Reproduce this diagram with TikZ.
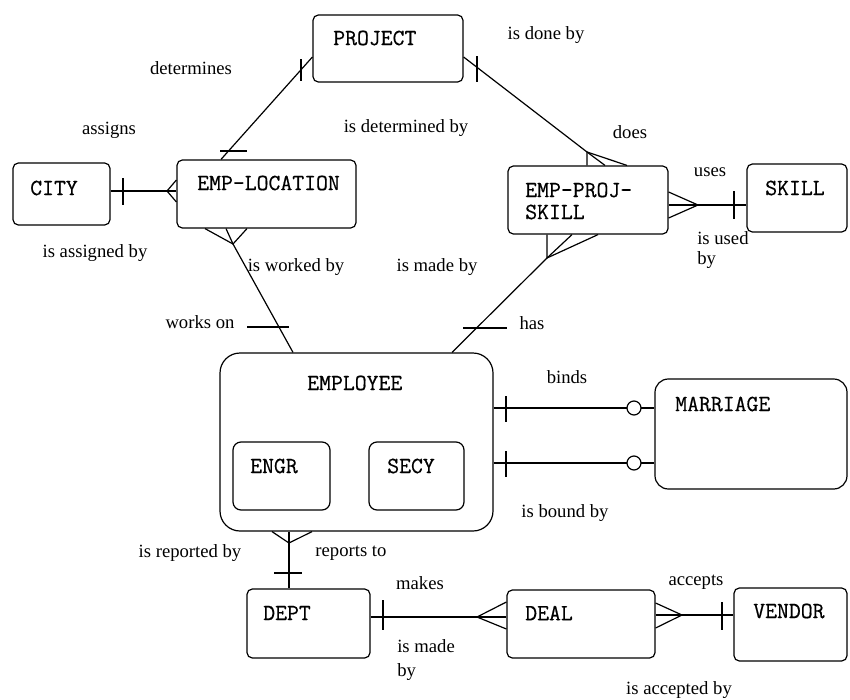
\documentclass[tikz,border=0pt]{standalone}
\usepackage{fontspec}
\setmainfont{Liberation Serif}
\setmonofont[FakeBold=0.5]{Latin Modern Mono}
\usetikzlibrary{fit,calc}
\begin{document}
\begin{tikzpicture}[x=0.75pt,y=-0.75pt,
  conn/.style={line width=0.9pt},
  ebox/.style={draw, line width=0.9pt, rounded corners=4pt, inner sep=0pt},
  etext/.style={font=\ttfamily\fontsize{17.3}{16.5}\selectfont, inner sep=0pt, anchor=west, align=left},
  lbl/.style={font=\fontsize{14}{16}\selectfont, inner sep=0pt}]
\useasboundingbox (0,0) rectangle (850,700);
\fill[white] (0,0) rectangle (850,700);

% ---------- entities ----------
\node[ebox, fit={(313,15)(463,82)}] (project) {};
\node[etext] (projectT) at (333,38) {PROJECT};
\node[ebox, fit={(13,163)(110,225)}] (city) {};
\node[etext] (cityT) at (30,188) {CITY};
\node[ebox, fit={(177,160)(356,228)}] (emploc) {};
\node[etext] (emplocT) at (197,183) {EMP-LOCATION};
\node[ebox, fit={(508,166)(668,234)}] (eps) {};
\node[etext] (epsT) at (525,201) {EMP-PROJ-\\SKILL};
\node[ebox, fit={(747,164)(847,232)}] (skill) {};
\node[etext] (skillT) at (765,188) {SKILL};
\node[ebox, rounded corners=15pt, fit={(220,353)(493,531)}] (employee) {};
\node[etext] (employeeT) at (307,383) {EMPLOYEE};
\node[ebox, rounded corners=6pt, fit={(233,442)(330,510)}] (engr) {};
\node[etext] (engrT) at (250,466) {ENGR};
\node[ebox, rounded corners=6pt, fit={(369,442)(464,510)}] (secy) {};
\node[etext] (secyT) at (387,466) {SECY};
\node[ebox, rounded corners=10pt, fit={(655,379)(847,489)}] (marriage) {};
\node[etext] (marriageT) at (675,404) {MARRIAGE};
\node[ebox, fit={(247,589)(370,658)}] (dept) {};
\node[etext] (deptT) at (263,613) {DEPT};
\node[ebox, fit={(507,590)(655,658)}] (deal) {};
\node[etext] (dealT) at (525,613) {DEAL};
\node[ebox, fit={(734,588)(847,661)}] (vendor) {};
\node[etext] (vendorT) at (753,611) {VENDOR};

% ---------- connectors ----------
% PROJECT - EMP-LOCATION
\draw[conn] (project.west |- 0,57) -- (emploc.north -| 221,0);
\draw[conn] (301,59) -- (301,81);
\draw[conn] (220,151) -- (247,151);

% CITY - EMP-LOCATION
\coordinate (cf) at (167,191);
\draw[conn] (city.east |- cf) -- (emploc.west |- cf);
\draw[conn] (emploc.west |- 0,180) -- (cf) -- (emploc.west |- 0,202);
\draw[conn] (123,178) -- (123,205);

% EMP-LOCATION - EMPLOYEE
\coordinate (ef) at (233,244);
\draw[conn] (emploc.south -| 226,0) -- (ef) -- (employee.north -| 293,0);
\draw[conn] (emploc.south -| 205,0) -- (ef) -- (emploc.south -| 247,0);
\draw[conn] (247,327) -- (289,327);

% PROJECT - EMP-PROJ-SKILL
\coordinate (pf) at (587,152);
\draw[conn] (project.east |- 0,57) -- (pf) -- (eps.north -| 605,0);
\draw[conn] (eps.north -| 587,0) -- (pf) -- (eps.north -| 627,0);
\draw[conn] (477,56) -- (477,82);

% EMP-PROJ-SKILL - SKILL
\coordinate (sf) at (698,205);
\draw[conn] (eps.east |- sf) -- (skill.west |- sf);
\draw[conn] (eps.east |- 0,192) -- (sf) -- (eps.east |- 0,218);
\draw[conn] (734,191) -- (734,219);

% EMP-PROJ-SKILL - EMPLOYEE
\coordinate (hf) at (547,258);
\draw[conn] (employee.north -| 452,0) -- (hf) -- (eps.south -| 572,0);
\draw[conn] (eps.south -| 547,0) -- (hf) -- (eps.south -| 598,0);
\draw[conn] (463,328) -- (507,328);

% EMPLOYEE - MARRIAGE
\draw[conn] (employee.east |- 0,408) -- (marriage.west |- 0,408);
\draw[conn] (506,396) -- (506,422);
\draw[conn, fill=white] (634,408) circle[radius=5.25pt];
\draw[conn] (employee.east |- 0,463) -- (marriage.west |- 0,463);
\draw[conn] (506,451) -- (506,477);
\draw[conn, fill=white] (634,463) circle[radius=5.25pt];

% EMPLOYEE - DEPT
\coordinate (df) at (289,543);
\draw[conn] (employee.south -| 289,0) -- (dept.north -| 289,0);
\draw[conn] (employee.south -| 272,0) -- (df) -- (employee.south -| 312,0);
\draw[conn] (274,573) -- (302,573);

% DEPT - DEAL
\coordinate (lf) at (477,617);
\draw[conn] (dept.east |- lf) -- (deal.west |- lf);
\draw[conn] (deal.west |- 0,602) -- (lf) -- (deal.west |- 0,629);
\draw[conn] (383,600) -- (383,630);

% DEAL - VENDOR
\coordinate (vf) at (682,615);
\draw[conn] (deal.east |- vf) -- (vendor.west |- vf);
\draw[conn] (deal.east |- 0,603) -- (vf) -- (deal.east |- 0,628);
\draw[conn] (722,602) -- (722,630);

% ---------- relationship labels ----------
\node[lbl] (l1) at (191,68) {determines};
\node[lbl] (l2) at (546,35) {is done by};
\node[lbl] (l3) at (109,130) {assigns};
\node[lbl] (l4) at (406,128) {is determined by};
\node[lbl] (l5) at (630,132) {does};
\node[lbl] (l6) at (710,172) {uses};
\node[lbl, anchor=west, align=left, font=\fontsize{14}{15.5}\selectfont] (l7) at (697,250) {is used\\by};
\node[lbl] (l8) at (95,253) {is assigned by};
\node[lbl] (l9) at (296,267) {is worked by};
\node[lbl] (l10) at (437,267) {is made by};
\node[lbl] (l11) at (200,322) {works on};
\node[lbl] (l12) at (532,323) {has};
\node[lbl] (l13) at (567,377) {binds};
\node[lbl] (l14) at (565,513) {is bound by};
\node[lbl] (l15) at (190,553) {is reported by};
\node[lbl] (l16) at (351,553) {reports to};
\node[lbl] (l17) at (420,583) {makes};
\node[lbl, anchor=west, align=left, font=\fontsize{14}{17.5}\selectfont] (l18) at (397,660) {is made\\by};
\node[lbl] (l19) at (696,582) {accepts};
\node[lbl] (l20) at (679,690) {is accepted by};
\end{tikzpicture}
\end{document}
